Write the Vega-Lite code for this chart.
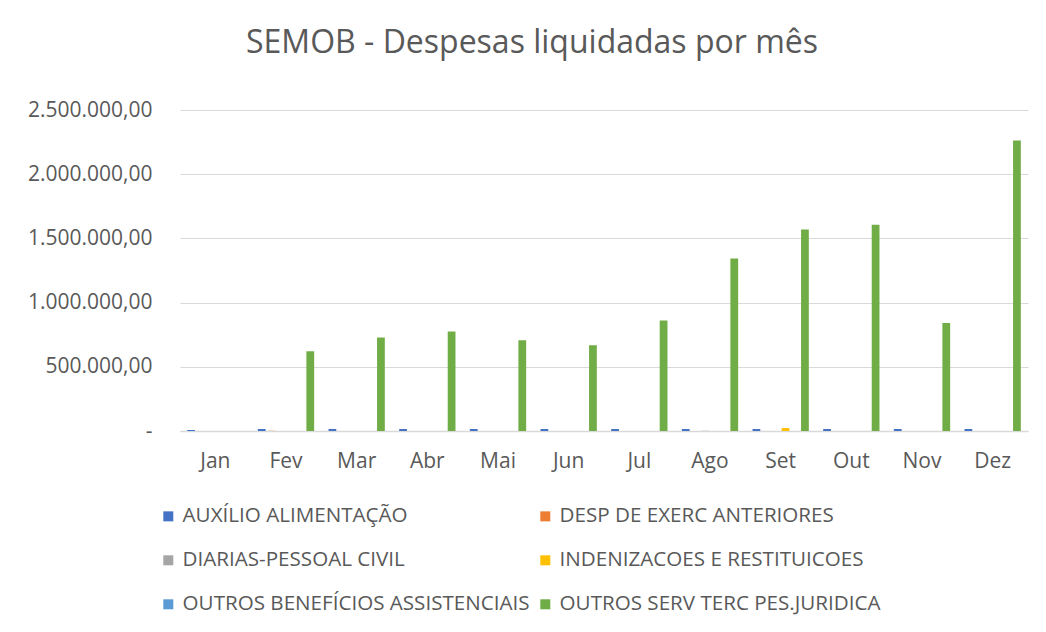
{
 "$schema": "https://vega.github.io/schema/vega-lite/v6.json",
 "width": 848,
 "height": 321,
 "autosize": "none",
 "padding": {"left": 180, "top": 110, "right": 18, "bottom": 201},
 "background": "white",
 "config": {
  "locale": {"number": {"decimal": ",", "thousands": ".", "grouping": [3], "currency": ["R$", ""]}},
  "view": {"stroke": null},
  "font": "Open Sans"
 },
 "title": {"text": "SEMOB - Despesas liquidadas por mês", "fontSize": 32, "font": "Open Sans", "fontWeight": "normal", "color": "#595959", "anchor": "middle", "dx": -72, "offset": 39},
 "data": {"values": [
  {"mes": "Jan", "categoria": "AUXÍLIO ALIMENTAÇÃO", "valor": 8000},
  {"mes": "Fev", "categoria": "AUXÍLIO ALIMENTAÇÃO", "valor": 15500},
  {"mes": "Fev", "categoria": "DESP DE EXERC ANTERIORES", "valor": 1500},
  {"mes": "Fev", "categoria": "OUTROS SERV TERC PES.JURIDICA", "valor": 621000},
  {"mes": "Mar", "categoria": "AUXÍLIO ALIMENTAÇÃO", "valor": 16000},
  {"mes": "Mar", "categoria": "OUTROS SERV TERC PES.JURIDICA", "valor": 728000},
  {"mes": "Abr", "categoria": "AUXÍLIO ALIMENTAÇÃO", "valor": 15500},
  {"mes": "Abr", "categoria": "OUTROS SERV TERC PES.JURIDICA", "valor": 774000},
  {"mes": "Mai", "categoria": "AUXÍLIO ALIMENTAÇÃO", "valor": 15500},
  {"mes": "Mai", "categoria": "OUTROS SERV TERC PES.JURIDICA", "valor": 707000},
  {"mes": "Jun", "categoria": "AUXÍLIO ALIMENTAÇÃO", "valor": 15500},
  {"mes": "Jun", "categoria": "OUTROS SERV TERC PES.JURIDICA", "valor": 668000},
  {"mes": "Jul", "categoria": "AUXÍLIO ALIMENTAÇÃO", "valor": 15500},
  {"mes": "Jul", "categoria": "OUTROS SERV TERC PES.JURIDICA", "valor": 860000},
  {"mes": "Ago", "categoria": "AUXÍLIO ALIMENTAÇÃO", "valor": 15500},
  {"mes": "Ago", "categoria": "DIARIAS-PESSOAL CIVIL", "valor": 1500},
  {"mes": "Ago", "categoria": "OUTROS SERV TERC PES.JURIDICA", "valor": 1344000},
  {"mes": "Set", "categoria": "AUXÍLIO ALIMENTAÇÃO", "valor": 15500},
  {"mes": "Set", "categoria": "INDENIZACOES E RESTITUICOES", "valor": 23000},
  {"mes": "Set", "categoria": "OUTROS SERV TERC PES.JURIDICA", "valor": 1570000},
  {"mes": "Out", "categoria": "AUXÍLIO ALIMENTAÇÃO", "valor": 15500},
  {"mes": "Out", "categoria": "OUTROS SERV TERC PES.JURIDICA", "valor": 1607000},
  {"mes": "Nov", "categoria": "AUXÍLIO ALIMENTAÇÃO", "valor": 15500},
  {"mes": "Nov", "categoria": "OUTROS SERV TERC PES.JURIDICA", "valor": 841000},
  {"mes": "Dez", "categoria": "AUXÍLIO ALIMENTAÇÃO", "valor": 15500},
  {"mes": "Dez", "categoria": "OUTROS SERV TERC PES.JURIDICA", "valor": 2262000}
 ]},
 "mark": {"type": "bar"},
 "encoding": {
  "x": {
   "field": "mes", "type": "nominal",
   "sort": ["Jan", "Fev", "Mar", "Abr", "Mai", "Jun", "Jul", "Ago", "Set", "Out", "Nov", "Dez"],
   "scale": {"domain": ["Jan", "Fev", "Mar", "Abr", "Mai", "Jun", "Jul", "Ago", "Set", "Out", "Nov", "Dez"], "paddingInner": 0, "paddingOuter": 0},
   "axis": {"title": null, "labelAngle": 0, "ticks": false, "domainColor": "#D9D9D9", "domainWidth": 1.5, "labelFontSize": 21, "labelColor": "#595959", "labelPadding": 19, "labelFont": "Open Sans"}
  },
  "xOffset": {
   "field": "categoria", "type": "nominal",
   "scale": {"domain": ["AUXÍLIO ALIMENTAÇÃO", "DESP DE EXERC ANTERIORES", "DIARIAS-PESSOAL CIVIL", "INDENIZACOES E RESTITUICOES", "OUTROS BENEFÍCIOS ASSISTENCIAIS", "OUTROS SERV TERC PES.JURIDICA"], "paddingInner": 0.2, "paddingOuter": 0.74}
  },
  "y": {
   "field": "valor", "type": "quantitative",
   "scale": {"domain": [0, 2500000]},
   "axis": {"title": null, "values": [0, 500000, 1000000, 1500000, 2000000, 2500000], "format": ",.2f", "labelExpr": "datum.value === 0 ? '-' : datum.label", "domain": false, "ticks": false, "gridColor": "#D9D9D9", "labelFontSize": 21, "labelColor": "#595959", "labelPadding": 28, "labelFont": "Open Sans"}
  },
  "color": {
   "field": "categoria", "type": "nominal",
   "scale": {"domain": ["AUXÍLIO ALIMENTAÇÃO", "DESP DE EXERC ANTERIORES", "DIARIAS-PESSOAL CIVIL", "INDENIZACOES E RESTITUICOES", "OUTROS BENEFÍCIOS ASSISTENCIAIS", "OUTROS SERV TERC PES.JURIDICA"], "range": ["#4472C4", "#ED7D31", "#A5A5A5", "#FFC000", "#5B9BD5", "#70AD47"]},
   "legend": {"orient": "none", "legendX": -22, "legendY": 396, "columns": 2, "title": null, "values": ["AUXÍLIO ALIMENTAÇÃO", "DIARIAS-PESSOAL CIVIL", "OUTROS BENEFÍCIOS ASSISTENCIAIS", "DESP DE EXERC ANTERIORES", "INDENIZACOES E RESTITUICOES", "OUTROS SERV TERC PES.JURIDICA"], "symbolType": "square", "symbolSize": 100, "symbolStrokeWidth": 0, "labelFontSize": 20.6, "labelFont": "Open Sans", "labelColor": "#595959", "rowPadding": 23, "columnPadding": 5, "labelOffset": 4, "labelLimit": 500}
  }
 }
}
